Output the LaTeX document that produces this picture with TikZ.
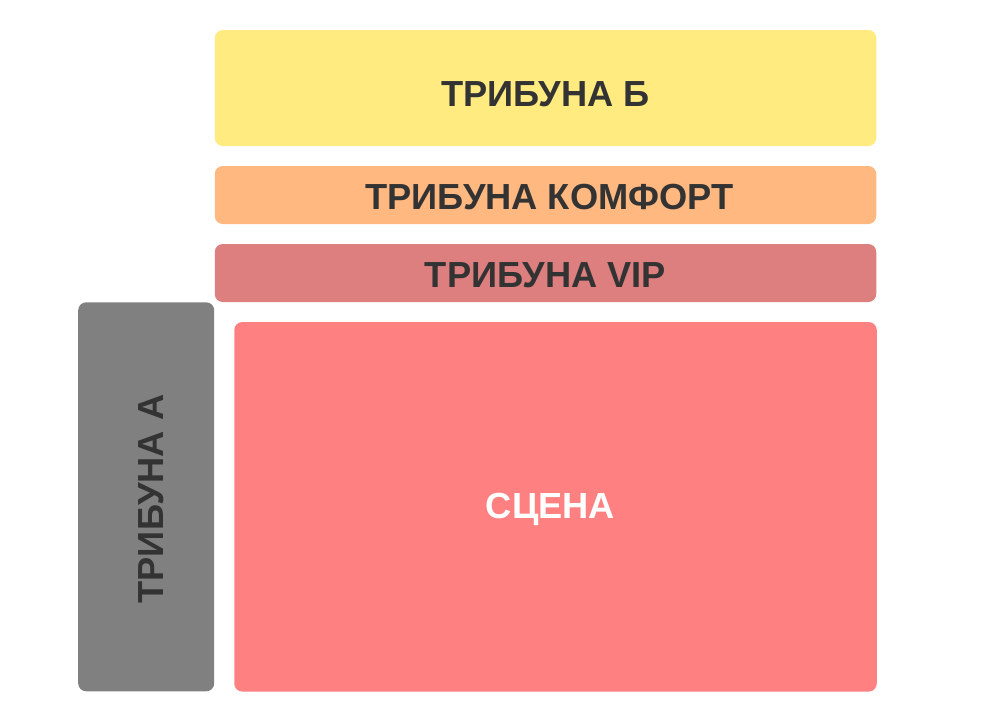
\documentclass[tikz,border=0pt]{standalone}
\usepackage{fontspec}
\setmainfont{Liberation Sans}
\definecolor{cB}{HTML}{FFEB80}
\definecolor{cK}{HTML}{FFB880}
\definecolor{cV}{HTML}{DE7F7F}
\definecolor{cA}{HTML}{808080}
\definecolor{cS}{HTML}{FF8080}
\definecolor{txt}{HTML}{333333}
\tikzset{
  zone/.style={rectangle, rounded corners=6pt, inner sep=0pt, draw=none},
  lbl/.style={inner sep=0pt, anchor=base, text=txt, font=\fontsize{27.2pt}{31pt}\selectfont\bfseries},
}
\begin{document}
\begin{tikzpicture}[x=0.75pt, y=-0.75pt]
\useasboundingbox (0,0) rectangle (981,722);
\node[zone, fill=cB, minimum width={661.5*0.75pt}, minimum height={116*0.75pt}] (zB) at (545.5,88) {};
\node[zone, fill=cK, minimum width={661.5*0.75pt}, minimum height={58*0.75pt}] (zK) at (545.5,195) {};
\node[zone, fill=cV, minimum width={661.5*0.75pt}, minimum height={58*0.75pt}] (zV) at (545.5,273) {};
\node[zone, fill=cA, minimum width={136*0.75pt}, minimum height={389*0.75pt}] (zA) at (146.2,496.8) {};
\node[zone, fill=cS, minimum width={642.5*0.75pt}, minimum height={369.5*0.75pt}] (zS) at (555.5,506.8) {};
\node[lbl] (tB) at (545.5,106.5) {ТРИБУНА Б};
\node[lbl] (tK) at (549.5,209.5) {ТРИБУНА КОМФОРТ};
\node[lbl] (tV) at (545.5,287.5) {ТРИБУНА VIP};
\node[lbl, text=white] (tS) at (550.5,518.5) {СЦЕНА};
\node[lbl, rotate=90] (tA) at (163.5,499) {ТРИБУНА А};
\end{tikzpicture}
\end{document}
